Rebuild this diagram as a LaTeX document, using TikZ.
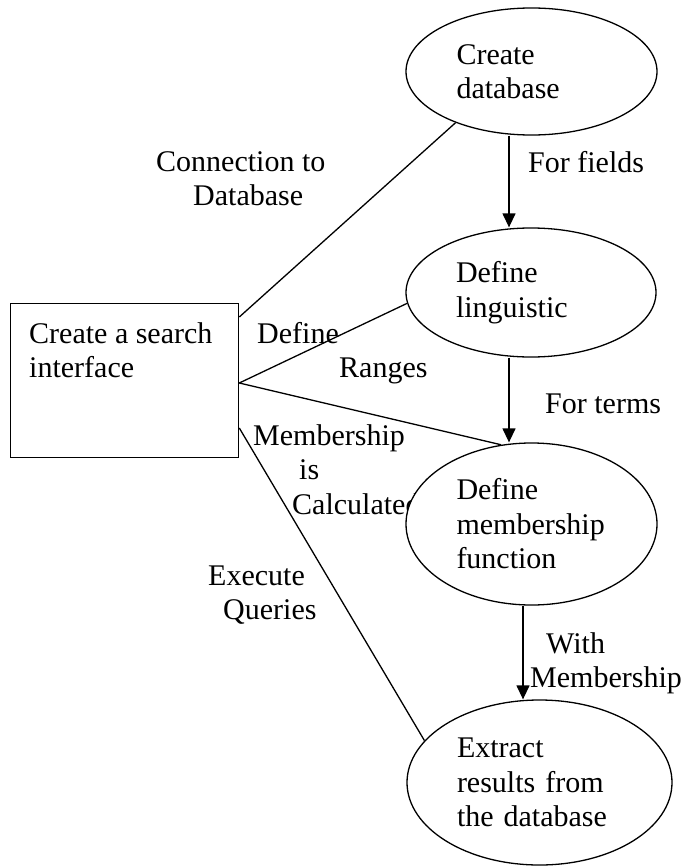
\documentclass[tikz,border=0pt]{standalone}
\usepackage{fontspec}
\setmainfont{Liberation Serif}
\usetikzlibrary{shapes.geometric,arrows.meta,calc}
\begin{document}
\begin{tikzpicture}[x=1pt,y=-1pt,
  txt/.style={font=\fontsize{30}{34.5}\selectfont, inner sep=0pt},
  lbl/.style={txt, align=left, anchor=base west},
  oval/.style={ellipse, draw, line width=1.3pt, fill=white, inner sep=0pt, txt, align=left},
  conn/.style={line width=1.3pt},
  flow/.style={line width=1.3pt, -{Triangle[width=13pt,length=14pt]}}]
\useasboundingbox (0,0) rectangle (683,867);

% labels (multi-line: position is the baseline of the last line)
\node[lbl] (lconn) at (156,205.5) {Connection to\\\hspace*{37pt}Database};
\node[lbl] (lfields) at (528,172) {For fields};
\node[lbl] (ldefine) at (257,343) {Define};
\node[lbl] (lranges) at (339,377) {Ranges};
\node[lbl] (lterms) at (545,413) {For terms};
\node[lbl] (lmember) at (253,514) {Membership\\\hspace*{46pt}is\\\hspace*{39pt}Calculated};
\node[lbl] (lexec) at (208,619.5) {Execute\\\hspace*{15pt}Queries};
\node[lbl] (lwith) at (530,687.5) {\hspace*{16pt}With\\Membership};

% shapes
\node[oval, text width=150pt, minimum width=251pt, minimum height=127pt] (e1) at (531.5,71.5) {Create\\database};
\node[oval, text width=150pt, minimum width=250pt, minimum height=129pt] (e2) at (531,292.5) {Define\\linguistic};
\node[oval, text width=150pt, minimum width=251pt, minimum height=162pt] (fn) at (531.5,524) {Define\\membership\\function};
\node[oval, text width=165pt, minimum width=265pt, minimum height=165pt] (ex) at (539.5,782.5) {Extract\\results from\\the database};

\node[draw, line width=1.3pt, minimum width=228pt, minimum height=154pt, inner sep=0pt, anchor=north west] (box) at (10,303) {};
\node[lbl] (boxtext) at (29,377.5) {Create a search\\interface};

% connectors
\coordinate (ax1) at (509,0);
\coordinate (ax2) at (523,0);
\draw[flow] (e1.south -| ax1) -- (e2.north -| ax1);
\draw[flow] (e2.south -| ax1) -- (fn.north -| ax1);
\draw[flow] (fn.south -| ax2) -- (ex.north -| ax2);
\draw[conn] ($(box.north east)+(0,14)$) -- (e1.214);
\draw[conn] ($(box.north east)+(0,80)$) -- (e2.185);
\draw[conn] ($(box.north east)+(0,80)$) -- (fn.111);
\draw[conn] ($(box.north east)+(0,125)$) -- (ex.160);
\end{tikzpicture}
\end{document}
